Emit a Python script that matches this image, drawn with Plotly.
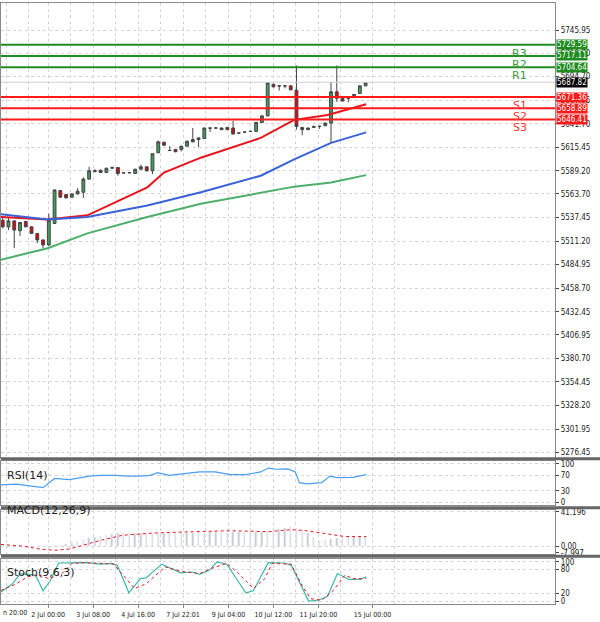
import plotly.graph_objects as go
from plotly.subplots import make_subplots

# ---- data ----
opens = [5534.3,5527.0,5533.6,5522.6,5532.9,5527.0,5519.7,5512.4,5506.9,5530.7,5567.3,5562.9,5560.0,5563.6,5565.5,5580.1,5588.5,5590.0,5587.4,5592.2,5592.9,5587.1,5587.0,5586.3,5591.1,5593.7,5589.3,5609.4,5621.1,5612.0,5613.1,5613.1,5616.7,5621.5,5624.1,5625.2,5636.9,5636.8,5636.9,5637.6,5636.9,5631.4,5632.5,5633.2,5633.2,5643.1,5650.4,5685.6,5683.8,5683.8,5683.8,5679.0,5637.6,5635.1,5637.6,5638.7,5639.5,5642.4,5677.2,5669.9,5669.9,5672.8,5675.4,5683.8]
highs = [5538.0,5538.0,5534.5,5532.5,5533.5,5527.5,5520.0,5513.0,5541.7,5568.5,5568.0,5563.5,5564.0,5570.0,5582.0,5593.7,5591.1,5590.5,5592.7,5594.0,5593.5,5587.6,5587.8,5591.5,5596.0,5594.0,5608.8,5623.0,5621.5,5616.7,5613.5,5617.2,5622.8,5636.9,5626.5,5637.4,5637.4,5637.5,5637.4,5638.0,5645.0,5631.9,5633.0,5633.7,5643.6,5651.0,5688.0,5686.1,5684.3,5684.3,5684.3,5706.5,5638.0,5637.4,5639.2,5639.3,5643.0,5688.2,5706.5,5670.4,5670.5,5674.7,5684.3,5688.0]
lows = [5525.2,5523.4,5503.2,5516.8,5526.5,5519.0,5508.7,5503.2,5505.5,5530.0,5559.5,5558.5,5559.5,5563.0,5559.2,5579.5,5587.5,5587.0,5587.0,5591.8,5583.8,5586.6,5586.8,5585.8,5590.5,5588.8,5585.6,5609.0,5617.3,5611.5,5610.0,5611.0,5616.2,5621.0,5615.6,5624.7,5632.5,5636.3,5634.6,5634.6,5629.8,5630.9,5632.0,5632.7,5632.7,5642.5,5650.0,5682.2,5678.6,5681.0,5679.0,5635.1,5628.8,5634.6,5637.1,5636.0,5639.0,5620.4,5666.0,5666.5,5665.5,5670.0,5675.0,5683.3]
closes = [5527.0,5533.6,5523.4,5531.8,5527.0,5519.7,5512.4,5506.9,5534.3,5568.0,5560.0,5559.2,5563.6,5566.6,5580.1,5589.3,5589.3,5587.4,5592.2,5592.9,5586.3,5587.0,5587.3,5591.1,5593.7,5589.3,5608.3,5621.5,5617.8,5611.9,5610.5,5616.7,5622.2,5624.1,5625.9,5636.9,5636.8,5637.0,5635.1,5635.1,5630.3,5631.3,5632.4,5633.1,5643.1,5650.4,5687.4,5682.7,5683.7,5683.9,5679.4,5638.7,5635.1,5636.9,5638.7,5638.8,5642.4,5677.2,5669.9,5667.0,5670.0,5674.2,5683.8,5687.4]

ma_x = [-0.3,7.8,14.7,25.1,28.0,34.4,44.8,50.6,56.4,63.1]
ma_red = [5538.0,5535.1,5539.8,5570.9,5587.4,5603.9,5625.9,5646.0,5651.5,5663.3]
ma2_x = [-0.3,7.8,14.7,25.1,34.4,44.8,50.6,57.0,63.1]
ma_blue = [5540.9,5535.1,5538.0,5550.8,5565.5,5583.8,5602.1,5620.4,5632.1]
ma_green = [5490.4,5503.2,5519.7,5538.0,5552.6,5564.4,5571.7,5576.4,5584.5]

res_levels = [5729.59,5717.11,5704.64]
res_names = ["R3","R2","R1"]
sup_levels = [5671.36,5658.89,5646.41]
sup_names = ["S1","S2","S3"]
last_price = 5687.82
price_ticks = [5745.95,5719.70,5694.70,5667.95,5641.70,5615.45,5589.20,5563.70,5537.45,5511.20,5484.95,5458.70,5432.45,5406.95,5380.70,5354.45,5328.20,5301.95,5276.45]

rsi_x = [-0.3,2.35,7.0,9.0,11.6,15,17,19.6,21.6,23.6,25.6,26.9,28.9,30.9,34.2,36.9,39.5,42.2,44.8,46.1,47.5,49.5,50.8,51.5,52.8,55.4,56.8,58.1,60.8,63.1]
rsi_v = [45,47,38,62,59,68,70,70,68,68,70,77,70,74,79,79,72,72,79,89,86,87,79,51,48,51,68,64,65,72]

macd_hist = [0.3,0.3,0.2,0.2,0.2,0.2,0.3,0.3,0.4,0.6,1.0,2,4,6,7.4,9,10.3,12.4,13.6,14.4,15.5,15.7,15.9,15.7,15.6,15.8,15.7,16.0,15.7,15.6,15.9,16.2,16.0,15.8,16.3,16.1,16.4,16.6,16.8,17.3,16.5,16.4,16.6,16.5,17.0,17.3,18.5,19.8,20.6,21.4,22.7,21.4,19.8,15.7,10.3,6.2,7.4,8.2,9.9,10.7,11.5,11.5,11.5,12.4]
sig_x = [-0.3,3.7,6.3,9.0,11.6,14.3,17.0,20.9,26.2,32.9,39.5,46.1,50.1,52.8,56.8,59.4,63.1]
sig_v = [2.1,0,-3.3,-4.9,-3.3,2.1,7.0,13.2,15.7,17.3,18.5,17.3,19.8,18.5,14.4,11.5,11.5]

stk_x = [-0.3,1.7,3.0,4.3,5.7,7.0,8.3,9.7,11.6,14.3,17.0,18.9,19.9,21.9,23.9,24.9,27.6,28.9,30.9,32.9,34.2,35.9,37.2,38.9,42.2,43.5,46.1,48.8,50.1,53.1,54.8,56.4,58.1,60.1,62.1,63.1]
stk_k = [23,44,70,68,66,26,53,97,97,98,94,96,91,21,57,59,94,85,72,74,68,79,100,94,21,26,98,97,91,0,2,12,70,55,55,62]
std_x = [-0.3,2.4,4.3,6.3,8.0,10.3,12.0,14.3,17.0,19.3,20.9,22.9,24.9,28.2,30.9,34.2,36.2,38.9,40.8,43.5,45.5,46.8,50.1,52.1,53.5,55.4,57.4,59.4,60.8,63.1]
std_d = [27,44,62,66,57,70,96,98,96,94,66,32,44,87,76,70,83,96,72,32,57,96,94,36,6,2,27,66,57,57]

xtick_vals = [0.6,7.9,15.7,23.5,31.3,39.2,47.0,54.8,64.2]
xtick_text = ["n 20:00","2 Jul 00:00","3 Jul 08:00","4 Jul 16:00","7 Jul 22:01","9 Jul 04:00","10 Jul 12:00","11 Jul 20:00","15 Jul 00:00"]

# ---- figure ----
fig = make_subplots(rows=4, cols=1, shared_xaxes=True)
x = list(range(len(opens)))
fig.add_trace(go.Candlestick(x=x, open=opens, high=highs, low=lows, close=closes,
    increasing=dict(fillcolor="#3f9c5c", line=dict(color="#444", width=1)),
    decreasing=dict(fillcolor="#e3000f", line=dict(color="#444", width=1)),
    whiskerwidth=0, showlegend=False), row=1, col=1)
fig.add_trace(go.Scatter(x=ma_x, y=ma_red, mode="lines", line=dict(color="#e8141c", width=2), showlegend=False), row=1, col=1)
fig.add_trace(go.Scatter(x=ma2_x, y=ma_blue, mode="lines", line=dict(color="#3a62d8", width=2), showlegend=False), row=1, col=1)
fig.add_trace(go.Scatter(x=ma2_x, y=ma_green, mode="lines", line=dict(color="#4caf6a", width=2), showlegend=False), row=1, col=1)

fig.add_trace(go.Scatter(x=rsi_x, y=rsi_v, mode="lines", line=dict(color="#4a9df0", width=1.2), showlegend=False), row=2, col=1)
fig.add_trace(go.Bar(x=x, y=macd_hist, marker_color="#c8c8c8", width=0.25, showlegend=False), row=3, col=1)
fig.add_trace(go.Scatter(x=sig_x, y=sig_v, mode="lines", line=dict(color="#e8141c", width=1, dash="dot"), showlegend=False), row=3, col=1)
fig.add_trace(go.Scatter(x=stk_x, y=stk_k, mode="lines", line=dict(color="#3fb8a8", width=1.2), showlegend=False), row=4, col=1)
fig.add_trace(go.Scatter(x=std_x, y=std_d, mode="lines", line=dict(color="#e8141c", width=1, dash="dot"), showlegend=False), row=4, col=1)

H = 622.0
def dom(top, bot):
    return [1 - bot / H, 1 - top / H]

grid = dict(showgrid=True, gridcolor="#d6d6d6", griddash="dot", gridwidth=1)
xr = [-0.3, 95.9]
minor_ticks = [v + d for v in xtick_vals for d in (0, 3.9)]
xfont = dict(size=7, color="#222", family="DejaVu Sans Condensed, DejaVu Sans")
for i in range(1, 5):
    fig.update_xaxes(row=i, col=1, range=xr, domain=[0, 555/600], tickvals=xtick_vals[1:],
                     ticktext=xtick_text[1:] if i == 4 else [""]*(len(xtick_vals)-1),
                     showticklabels=(i == 4), rangeslider_visible=False, tickangle=0,
                     showline=True, linecolor="#888", mirror=True, zeroline=False,
                     ticks="outside" if i == 4 else "", ticklen=3, tickcolor="#888",
                     tickfont=xfont,
                     minor=dict(tickvals=minor_ticks, showgrid=True, gridcolor="#d6d6d6", griddash="dot"),
                     **grid)
# first, partially visible date label
fig.add_annotation(xref="paper", yref="paper", x=0, y=1 - 611/H, text=xtick_text[0], showarrow=False,
                   xanchor="left", yanchor="top", font=xfont)

yfont = dict(size=8, color="#222", family="DejaVu Sans Condensed, DejaVu Sans")
fig.update_yaxes(row=1, col=1, domain=dom(0, 460), range=[5270.0, 5776.0], side="right",
                 tickvals=price_ticks, ticktext=[f"{v:.2f}" for v in price_ticks],
                 tickfont=yfont, ticks="outside", ticklen=3, showline=True, linecolor="#888", mirror=True, **grid)
fig.update_yaxes(row=2, col=1, domain=dom(463, 508), range=[-8, 108], side="right",
                 tickvals=[0, 30, 70, 100], tickfont=yfont, ticks="outside", ticklen=3,
                 showline=True, linecolor="#888", mirror=True, zeroline=False, **grid)
fig.update_yaxes(row=3, col=1, domain=dom(513, 557), range=[-9, 43], side="right",
                 tickvals=[41.196, 0, -7.997], ticktext=["41.196", "0.00", "-7.997"], tickfont=yfont,
                 ticks="outside", ticklen=3, showline=True, linecolor="#888", mirror=True, zeroline=False, **grid)
fig.update_yaxes(row=4, col=1, domain=dom(562, 608), range=[-8, 108], side="right",
                 tickvals=[0, 20, 80, 100], tickfont=yfont, ticks="outside", ticklen=3,
                 showline=True, linecolor="#888", mirror=True, zeroline=False, **grid)

lab_x = 89.8
for lv, nm in zip(res_levels, res_names):
    fig.add_shape(type="line", xref="x", yref="y", x0=xr[0], x1=xr[1], y0=lv, y1=lv, line=dict(color="#1e8c1e", width=2))
    fig.add_annotation(xref="x", yref="y", x=lab_x, y=lv, text=nm, showarrow=False, yanchor="top", yshift=0,
                       font=dict(size=11, color="#3c9a3c", family="DejaVu Sans"))
    fig.add_annotation(xref="paper", yref="y", x=556/600, y=lv, text=f"{lv:.2f}", showarrow=False, xanchor="left",
                       bgcolor="#1e8c1e", font=dict(size=8, color="white", family="DejaVu Sans Condensed"), borderpad=0)
for lv, nm in zip(sup_levels, sup_names):
    fig.add_shape(type="line", xref="x", yref="y", x0=xr[0], x1=xr[1], y0=lv, y1=lv, line=dict(color="#ff1a1a", width=2))
    fig.add_annotation(xref="x", yref="y", x=lab_x, y=lv, text=nm, showarrow=False, yanchor="top", yshift=0,
                       font=dict(size=11, color="#ff3333", family="DejaVu Sans"))
    fig.add_annotation(xref="paper", yref="y", x=556/600, y=lv, text=f"{lv:.2f}", showarrow=False, xanchor="left",
                       bgcolor="#ff1a1a", font=dict(size=8, color="white", family="DejaVu Sans Condensed"), borderpad=0)
fig.add_shape(type="line", xref="x", yref="y", x0=xr[0], x1=xr[1], y0=last_price, y1=last_price, line=dict(color="#cfcfcf", width=1))
fig.add_annotation(xref="paper", yref="y", x=556/600, y=last_price, text=f"{last_price:.2f}", showarrow=False, xanchor="left",
                   bgcolor="black", font=dict(size=8, color="white", family="DejaVu Sans Condensed"), borderpad=0)

for yp in (461, 510.5, 559.5):
    fig.add_shape(type="line", xref="paper", yref="paper", x0=0, x1=1, y0=1 - yp/H, y1=1 - yp/H,
                  line=dict(color="#666", width=3))

for txt, yp in (("RSI(14)", 486), ("MACD(12,26,9)", 522), ("Stoch(9,6,3)", 585)):
    fig.add_annotation(xref="paper", yref="paper", x=4/600, y=1 - yp/H, text=txt, showarrow=False,
                       xanchor="left", font=dict(size=11, color="#222", family="DejaVu Sans"))

fig.update_layout(width=600, height=622, margin=dict(l=0, r=0, t=0, b=0),
                  paper_bgcolor="white", plot_bgcolor="white", bargap=0, showlegend=False)
fig.write_html("out.html", config={"displayModeBar": False},
               post_script="document.body.style.margin='0';")
